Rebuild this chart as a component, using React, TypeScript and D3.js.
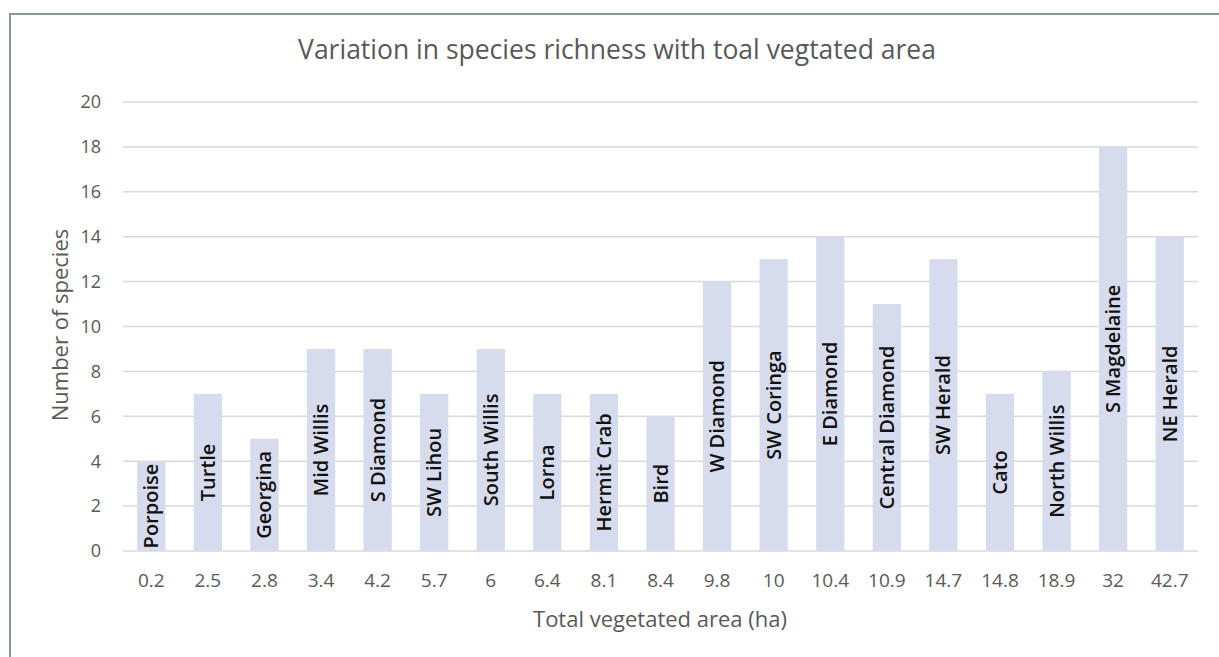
import React from "react";
import * as d3 from "d3";

const islands = ["Porpoise","Turtle","Georgina","Mid Willis","S Diamond","SW Lihou","South Willis","Lorna","Hermit Crab","Bird","W Diamond","SW Coringa","E Diamond","Central Diamond","SW Herald","Cato","North Willis","S Magdelaine","NE Herald"];
const areas = ["0.2","2.5","2.8","3.4","4.2","5.7","6","6.4","8.1","8.4","9.8","10","10.4","10.9","14.7","14.8","18.9","32","42.7"];
const species = [4,7,5,9,9,7,9,7,7,6,12,13,14,11,13,7,8,18,14];
const yTicks = [0,2,4,6,8,10,12,14,16,18,20];

const W = 1219, H = 657;
const FONT = "'Open Sans', Lato, sans-serif";

export default function App() {
  const left = 123, right = 1198, top = 102, bottom = 551;
  const x = d3.scaleBand<number>().domain(d3.range(islands.length)).range([left, right]).paddingInner(0.5).paddingOuter(0.25);
  const y = d3.scaleLinear().domain([0, 20]).range([bottom, top]);
  return (
    <svg width={W} height={H} style={{ position: "absolute", left: 0, top: 0, background: "#fff" }} fontFamily={FONT}>
      <rect x={0} y={0} width={W} height={H} fill="#fff" />
      <rect x={10} y={14} width={W + 20} height={H + 20} fill="none" stroke="#8693a0" strokeWidth={2} />
      <text x={617} y={59} textAnchor="middle" fontSize={26.5} fill="#595959">Variation in species richness with toal vegtated area</text>
      {yTicks.map((t) => (
        <g key={t}>
          <line x1={left} x2={right} y1={y(t)} y2={y(t)} stroke="#d9d9d9" strokeWidth={1.5} />
          <text x={101} y={y(t)} dy="0.35em" textAnchor="end" fontSize={18} fill="#595959">{t}</text>
        </g>
      ))}
      {species.map((v, i) => (
        <rect key={i} x={x(i)} y={y(v)} width={x.bandwidth()} height={y(0) - y(v)} fill="#d6dcee" />
      ))}
      {species.map((v, i) => {
        const cx = (x(i) as number) + x.bandwidth() / 2;
        const cy = (y(v) + y(0)) / 2;
        return (
          <text key={i} transform={`translate(${cx},${cy}) rotate(-90)`} textAnchor="middle" dy="0.35em" fontSize={20} fontWeight={600} fill="#111">{islands[i]}</text>
        );
      })}
      {areas.map((a, i) => (
        <text key={i} x={(x(i) as number) + x.bandwidth() / 2} y={587} textAnchor="middle" fontSize={19} fill="#595959">{a}</text>
      ))}
      <text x={660} y={627} textAnchor="middle" fontSize={22} fill="#595959">Total vegetated area (ha)</text>
      <text transform={`translate(60,325) rotate(-90)`} textAnchor="middle" dy="0.35em" fontSize={22} fill="#595959">Number of species</text>
    </svg>
  );
}
